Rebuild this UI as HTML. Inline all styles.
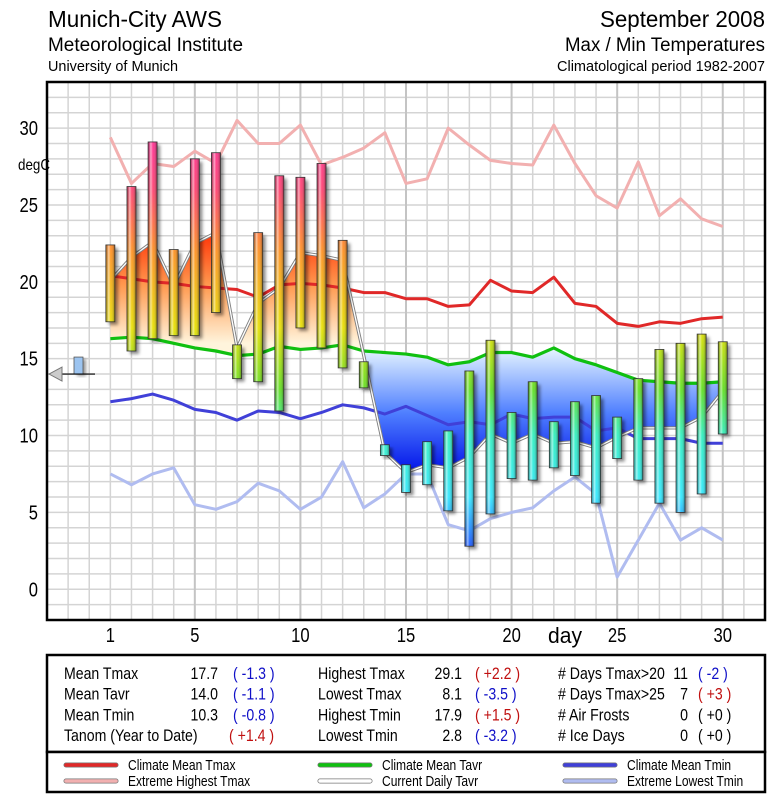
<!DOCTYPE html>
<html><head><meta charset="utf-8"><style>
html,body{margin:0;padding:0;background:#fff;}
svg{display:block;font-family:"Liberation Sans Narrow","Liberation Sans",sans-serif;}
</style></head><body>
<svg id="chart" xmlns="http://www.w3.org/2000/svg" width="775" height="800" viewBox="0 0 775 800">
<defs>
  <linearGradient id="barShade" x1="0" y1="0" x2="1" y2="0">
    <stop offset="0" stop-color="#000" stop-opacity="0.25"/>
    <stop offset="0.3" stop-color="#fff" stop-opacity="0.55"/>
    <stop offset="0.55" stop-color="#fff" stop-opacity="0.05"/>
    <stop offset="1" stop-color="#000" stop-opacity="0.4"/>
  </linearGradient>
  <filter id="blur" x="-50%" y="-10%" width="200%" height="120%"><feGaussianBlur stdDeviation="1.5"/></filter>
</defs>
<g id="header">
  <text x="48" y="27" font-size="23" textLength="174" lengthAdjust="spacingAndGlyphs">Munich-City AWS</text>
  <text x="48" y="51" font-size="19" textLength="195" lengthAdjust="spacingAndGlyphs">Meteorological Institute</text>
  <text x="48" y="71" font-size="15" textLength="130" lengthAdjust="spacingAndGlyphs">University of Munich</text>
  <text x="765" y="27" font-size="23" text-anchor="end" textLength="165" lengthAdjust="spacingAndGlyphs">September 2008</text>
  <text x="765" y="51" font-size="19" text-anchor="end" textLength="200" lengthAdjust="spacingAndGlyphs">Max / Min Temperatures</text>
  <text x="765" y="71" font-size="15" text-anchor="end" textLength="208" lengthAdjust="spacingAndGlyphs">Climatological period 1982-2007</text>
</g>
<g id="plot"></g>
<rect x="47" y="82" width="718" height="538" fill="none" stroke="#000" stroke-width="2.5"/>
<g id="axes"></g>
<text x="18" y="170" font-size="16" textLength="32" lengthAdjust="spacingAndGlyphs">degC</text>
<text x="565" y="643" font-size="22" text-anchor="middle" textLength="34" lengthAdjust="spacingAndGlyphs">day</text>
<g id="stats">
  <rect x="47" y="655" width="718" height="97" fill="#fff" stroke="#000" stroke-width="2.5"/>
</g>
<g id="legend">
  <rect x="47" y="752" width="718" height="40" fill="#fff" stroke="#000" stroke-width="2.5"/>
</g>
</svg>
<script>
const days = [1,2,3,4,5,6,7,8,9,10,11,12,13,14,15,16,17,18,19,20,21,22,23,24,25,26,27,28,29,30];
const tmax = [22.4,26.2,29.1,22.1,28.0,28.4,15.9,23.2,26.9,26.8,27.7,22.7,14.8,9.4,8.1,9.6,10.3,14.2,16.2,11.5,13.5,10.9,12.2,12.6,11.2,13.7,15.6,16.0,16.6,16.1];
const tmin = [17.4,15.5,16.3,16.5,16.5,18.0,13.7,13.5,11.6,17.0,15.7,14.4,13.1,8.7,6.3,6.8,5.1,2.8,4.9,7.2,7.1,7.9,7.4,5.6,8.5,7.1,5.6,5.0,6.2,10.1];
const tavr = [20.1,21.6,22.6,19.7,22.5,23.2,15.7,18.6,19.6,21.9,21.7,21.4,15.2,8.9,7.6,8.1,7.9,8.6,10.1,9.5,10.1,9.5,9.6,9.2,9.9,10.5,10.5,10.5,11.2,12.9];
const climTavr = [16.3,16.4,16.3,16.0,15.7,15.5,15.2,15.3,15.8,15.6,15.7,15.9,15.5,15.4,15.3,15.1,14.6,14.8,15.4,15.4,15.1,15.7,15.0,14.6,14.1,13.6,13.5,13.4,13.4,13.5];
const climTmax = [20.4,20.2,20.0,19.9,19.7,19.6,19.5,19.0,19.8,19.9,19.8,19.6,19.3,19.3,18.9,18.9,18.4,18.5,20.1,19.4,19.3,20.3,18.6,18.4,17.3,17.1,17.4,17.3,17.6,17.7];
const climTmin = [12.2,12.4,12.7,12.3,11.7,11.5,11.0,11.6,11.5,11.1,11.5,12.0,11.8,11.4,11.9,11.3,10.7,10.9,10.7,11.4,11.1,11.2,11.2,10.3,10.5,9.8,9.8,9.8,9.5,9.5];
const extHigh = [29.4,26.4,27.7,27.5,28.5,27.7,30.5,29.0,29.0,30.2,27.6,28.1,28.7,29.7,26.4,26.7,30.0,28.9,27.9,27.7,27.6,30.2,27.7,25.6,24.8,27.8,24.3,25.4,24.1,23.6];
const extLow = [7.5,6.8,7.5,7.9,5.5,5.2,5.7,6.9,6.4,5.2,6.0,8.3,5.3,6.2,7.5,7.5,4.2,3.8,4.6,5.0,5.3,6.4,7.3,6.2,0.8,3.2,5.6,3.2,4.0,3.2];
const yTicks = [0,5,10,15,20,25,30];
const xTicks = [1,5,10,15,20,25,30];
const yearMean = 14.0;

const NS='http://www.w3.org/2000/svg';
const X0=47,X1=765,Y0=82,Y1=620,DMIN=-2,DMAX=32,TMIN=-2,TMAX=33;
function xs(d){return X0+(d-DMIN)*(X1-X0)/(DMAX-DMIN);}
function ys(v){return Y1-(v-TMIN)*(Y1-Y0)/(TMAX-TMIN);}
function mk(tag,attrs,parent){const e=document.createElementNS(NS,tag);for(const k in attrs)e.setAttribute(k,attrs[k]);if(parent)parent.appendChild(e);return e;}
const svg=document.getElementById('chart');
const defs=svg.querySelector('defs');
const plot=document.getElementById('plot');
const axes=document.getElementById('axes');

const tg=mk('linearGradient',{id:'tempGrad',gradientUnits:'userSpaceOnUse',x1:0,y1:ys(2),x2:0,y2:ys(29)},defs);
[[2,'#1030ff'],[6,'#30e8ff'],[10,'#30f0c0'],[13,'#60e020'],[17,'#e8e000'],[22,'#ff9020'],[26,'#ff4070'],[29,'#ff3090']].forEach(s=>{
  mk('stop',{offset:(s[0]-2)/27,'stop-color':s[1]},tg);
});
const og=mk('linearGradient',{id:'warmGrad',gradientUnits:'userSpaceOnUse',x1:0,y1:ys(23.5),x2:0,y2:ys(16)},defs);
mk('stop',{offset:0,'stop-color':'#ff2a00'},og);mk('stop',{offset:0.5,'stop-color':'#ff9a50'},og);mk('stop',{offset:1,'stop-color':'#fff4dc'},og);
const bg=mk('linearGradient',{id:'coldGrad',gradientUnits:'userSpaceOnUse',x1:0,y1:ys(15.5),x2:0,y2:ys(7.5)},defs);
mk('stop',{offset:0,'stop-color':'#e0f0ff'},bg);mk('stop',{offset:0.5,'stop-color':'#5080ff'},bg);mk('stop',{offset:1,'stop-color':'#0010e8'},bg);

const bgRect=mk('rect',{x:X0,y:Y0,width:X1-X0,height:Y1-Y0,fill:'#fff'},plot);


const grid=mk('g',{},plot);


for(let v=TMIN+1;v<TMAX;v++){
  const l=mk('line',{x1:X0,x2:X1,y1:ys(v),y2:ys(v),stroke:'#d4d4d4','stroke-width':1.5},grid);
  
  
}
for(let d=DMIN+1;d<DMAX;d++){
  const major=(d%5===0&&d>0);
  const l=mk('line',{x1:xs(d),x2:xs(d),y1:Y0,y2:Y1,stroke:major?'#c4c4c4':'#d4d4d4','stroke-width':major?2:1.5},grid);
  
  
}

function pts(arr){return arr.map((v,i)=>xs(days[i])+','+ys(v));}
const areaPts=pts(tavr).concat(pts(climTavr).reverse()).join(' ');
const clipA=mk('clipPath',{id:'aboveClim'},defs);
mk('polygon',{points:pts(climTavr).join(' ')+' '+xs(30)+','+Y0+' '+xs(1)+','+Y0},clipA);
const clipB=mk('clipPath',{id:'belowClim'},defs);
mk('polygon',{points:pts(climTavr).join(' ')+' '+xs(30)+','+Y1+' '+xs(1)+','+Y1},clipB);
const warm=mk('polygon',{points:areaPts,fill:'url(#warmGrad)','clip-path':'url(#aboveClim)'},plot);


const cold=mk('polygon',{points:areaPts,fill:'url(#coldGrad)','clip-path':'url(#belowClim)'},plot);



function line(arr,color,w,name){
  const p=mk('polyline',{points:pts(arr).join(' '),fill:'none',stroke:color,'stroke-width':w,'stroke-linejoin':'round'},plot);
  
  
  return p;
}
line(extHigh,'#f2b0b0',3,'extreme-highest-tmax-line');
line(extLow,'#b0bcf0',3,'extreme-lowest-tmin-line');
line(climTmax,'#e02828',3,'climate-mean-tmax-line');
line(climTmin,'#4040d8',3,'climate-mean-tmin-line');
line(climTavr,'#10c010',3.2,'climate-mean-tavr-line');
line(tavr,'#808080',3.2,'current-daily-tavr-outline');
line(tavr,'#ffffff',1.3,'current-daily-tavr-line');

const bw=9;
days.forEach((d,i)=>{
  const g=mk('g',{},plot);
  
  
  const x=xs(d)-bw/2,yt=ys(tmax[i]),yb=ys(tmin[i]);
  mk('rect',{x:x+3,y:yt+3,width:bw,height:yb-yt,fill:'#000','fill-opacity':0.45,filter:'url(#blur)'},g);
  mk('rect',{x:x,y:yt,width:bw,height:yb-yt,fill:'url(#tempGrad)'},g);
  mk('rect',{x:x,y:yt,width:bw,height:yb-yt,fill:'url(#barShade)',stroke:'#333','stroke-width':0.8},g);
});

const mg=mk('g',{},plot);


const ym=ys(yearMean);
mk('rect',{x:77,y:ym-15,width:9,height:17,fill:'#000','fill-opacity':0.4,filter:'url(#blur)'},mg);
mk('rect',{x:74,y:ym-17,width:9,height:17,fill:'#9cc4f0',stroke:'#555','stroke-width':0.8},mg);
mk('line',{x1:60,x2:95,y1:ym,y2:ym,stroke:'#000','stroke-width':1.2},mg);
mk('polygon',{points:'49,'+ym+' 62,'+(ym-7)+' 62,'+(ym+7),fill:'#ccc',stroke:'#777','stroke-width':1},mg);

yTicks.forEach(v=>{
  const t=mk('text',{x:38,y:ys(v)+7,'font-size':20,'text-anchor':'end'},axes);
  t.textContent=v;
  
  
});
xTicks.forEach(d=>{
  const t=mk('text',{x:xs(d),y:642,'font-size':20,'text-anchor':'middle'},axes);
  t.textContent=d;
  
  
});

const stats=document.getElementById('stats');
const BLUE='#1010c8',RED='#c01010';
const statRows=[
 [['Mean Tmax','17.7','( -1.3 )',BLUE],['Highest Tmax','29.1','( +2.2 )',RED],['# Days Tmax>20','11','( -2 )',BLUE]],
 [['Mean Tavr','14.0','( -1.1 )',BLUE],['Lowest Tmax','8.1','( -3.5 )',BLUE],['# Days Tmax>25','7','( +3 )',RED]],
 [['Mean Tmin','10.3','( -0.8 )',BLUE],['Highest Tmin','17.9','( +1.5 )',RED],['# Air Frosts','0','( +0 )','#000']],
 [['Tanom (Year to Date)','','( +1.4 )',RED],['Lowest Tmin','2.8','( -3.2 )',BLUE],['# Ice Days','0','( +0 )','#000']]
];
const cols=[[64,218,233],[318,462,475],[558,688,698]];
statRows.forEach((row,r)=>{
  const y=679+r*20.7;
  row.forEach((c,ci)=>{
    const [lx,vx,px]=cols[ci];
    const a=mk('text',{x:lx,y:y,'font-size':17},stats);a.textContent=c[0];
    
    
    if(c[1]){const b=mk('text',{x:vx,y:y,'font-size':17,'text-anchor':'end'},stats);b.textContent=c[1];
      
      }
    const p=mk('text',{x:(r===3&&ci===0)?229:px,y:y,'font-size':17,fill:c[3]},stats);p.textContent=c[2];
    
    
  });
});

const legend=document.getElementById('legend');
const legItems=[
 [66,765,'#e02828','Climate Mean Tmax'],[66,781,'#f2b0b0','Extreme Highest Tmax'],
 [320,765,'#10c010','Climate Mean Tavr'],[320,781,'#ffffff','Current Daily Tavr'],
 [565,765,'#4040d8','Climate Mean Tmin'],[565,781,'#b0bcf0','Extreme Lowest Tmin']
];
legItems.forEach(it=>{
  const g=mk('g',{},legend);
  
  
  mk('line',{x1:it[0],x2:it[0]+50,y1:it[1],y2:it[1],stroke:'#777','stroke-width':5,'stroke-linecap':'round'},g);
  mk('line',{x1:it[0],x2:it[0]+50,y1:it[1],y2:it[1],stroke:it[2],'stroke-width':3.5,'stroke-linecap':'round'},g);
  const t=mk('text',{x:it[0]+62,y:it[1]+5,'font-size':14.5},g);t.textContent=it[3];
});

// condense text (narrow font look)
document.querySelectorAll('#axes text, #stats text, #legend text').forEach(t=>{
  const L=t.getComputedTextLength();
  if(L>0){t.setAttribute('textLength',(L*0.83).toFixed(1));t.setAttribute('lengthAdjust','spacingAndGlyphs');}
});
</script>
</body></html>
